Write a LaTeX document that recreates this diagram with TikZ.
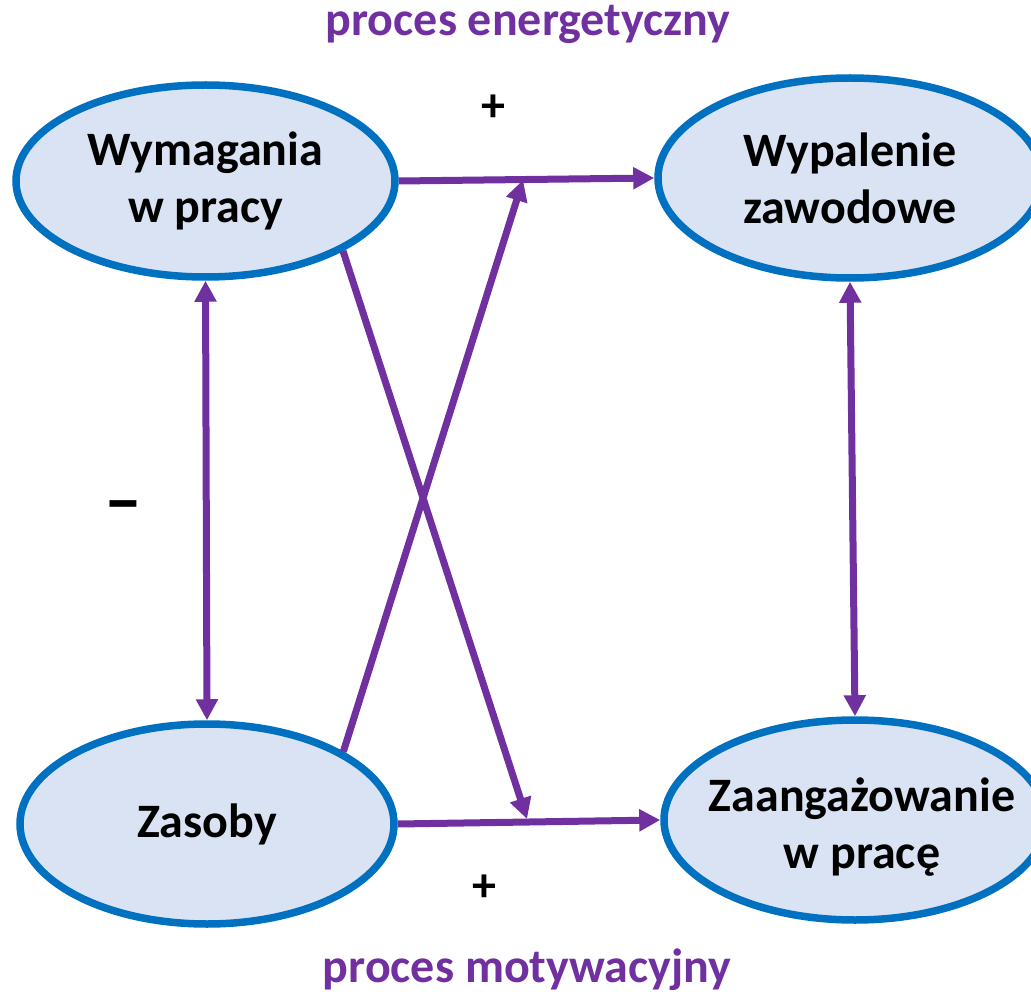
\documentclass[tikz,border=0pt]{standalone}
\usepackage{fontspec}
\setmainfont{Carlito}
\usetikzlibrary{arrows.meta,shapes.geometric}
\definecolor{purp}{HTML}{7030A0}
\definecolor{blu}{HTML}{0070C0}
\definecolor{fillb}{HTML}{DAE3F3}
\begin{document}
\begin{tikzpicture}[x=1pt,y=-1pt,
  oval/.style={ellipse, draw=blu, fill=fillb, line width=7.5pt, inner sep=0pt,
    align=center, font=\bfseries\fontsize{48}{57}\selectfont},
  conn/.style={draw=purp, line width=7pt, -{Triangle[length=21pt,width=21pt]}},
  bothconn/.style={draw=purp, line width=7pt, {Triangle[length=21pt,width=21pt]}-{Triangle[length=21pt,width=21pt]}},
  heading/.style={text=purp, font=\bfseries\fontsize{48}{57}\selectfont, inner sep=0pt, anchor=base},
  sign/.style={font=\bfseries\fontsize{48}{57}\selectfont, inner sep=0pt}
]
\useasboundingbox (0,0) rectangle (1031,992);

\node[oval, minimum width=379pt, minimum height=192pt] (wym) at (205.5,181) {Wymagania\\w pracy};
\node[oval, minimum width=384pt, minimum height=200pt] (wyp) at (850,178) {Wypalenie\\zawodowe};
\node[oval, minimum width=374pt, minimum height=200pt] (zas) at (207,824) {Zasoby};
\node[oval, minimum width=382pt, minimum height=200pt, inner xsep=-40pt]
  (zaa) at (855,820) {\rule{0pt}{47pt}\hspace*{14pt}Zaangażowanie\\\hspace*{14pt}w pracę};

\node[heading] (h1) at (528,36) {proces energetyczny};
\node[heading] (h2) at (527,982) {proces motywacyjny};

\node[sign] (s1) at (493,108) {+};
\node[sign] (s2) at (484,888) {+};
\node[sign, font=\bfseries\fontsize{76}{80}\selectfont] (s3) at (123,513) {–};

\coordinate (m1) at (523,180);
\coordinate (m2) at (527,819);

\draw[conn] (wym.east) -- (wyp.west);
\draw[conn] (zas.east) -- (zaa.west);
\draw[bothconn] (wym.south) -- (zas.north);
\draw[bothconn] (wyp.south) -- (zaa.north);
\draw[conn] (zas.28) -- (m1);
\draw[conn] (wym.-27) -- (m2);
\end{tikzpicture}
\end{document}
